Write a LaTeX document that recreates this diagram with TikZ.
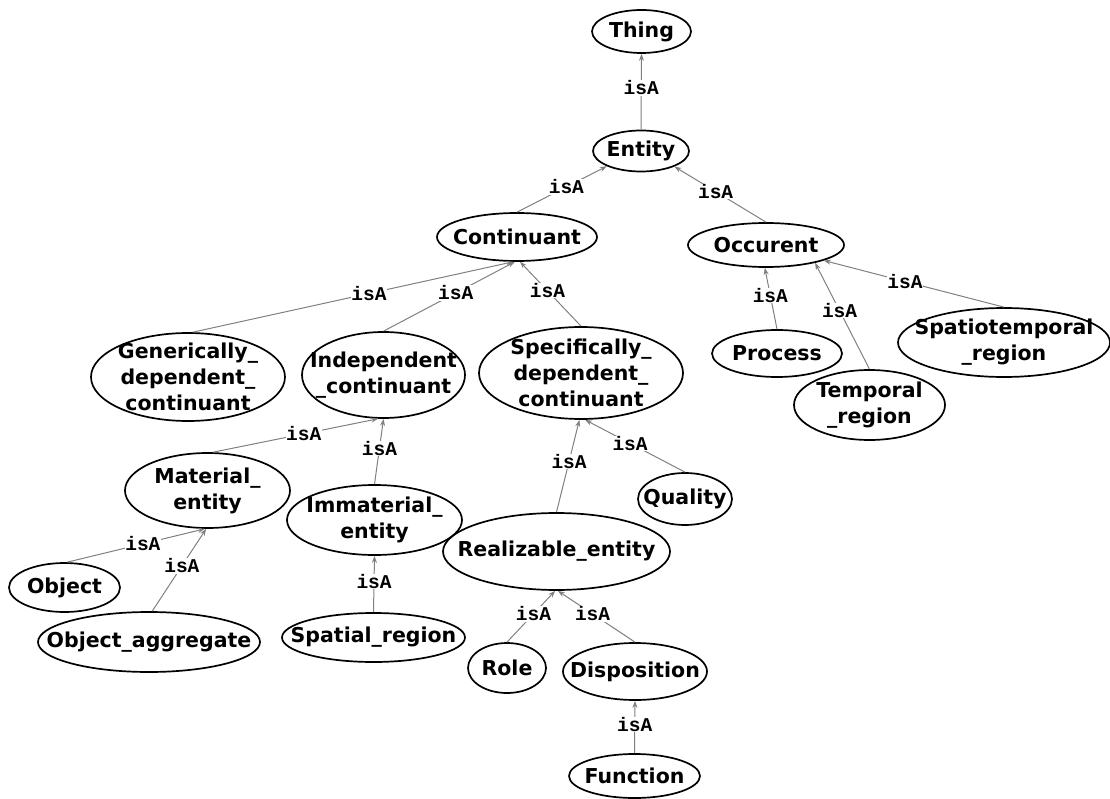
\documentclass[tikz,border=0pt]{standalone}
\usepackage{fontspec}
\setmainfont{DejaVu Sans}
\newfontfamily\labfont{Liberation Mono}
\usetikzlibrary{arrows.meta,shapes.geometric}
\definecolor{edgegray}{RGB}{128,128,128}
\tikzset{
  ell/.style={ellipse, draw=black, line width=1.7pt, inner sep=0pt},
  ntext/.style={font=\fontsize{20.5}{26}\selectfont\bfseries, align=center, inner sep=0pt},
  edge/.style={draw=edgegray, line width=1pt, -{Stealth[length=7pt,width=5pt]}},
  lbl/.style={font=\labfont\fontsize{19.5}{20}\selectfont\bfseries, fill=white, inner sep=0.5pt, pos=0.55, text=black},
}
\begin{document}
\begin{tikzpicture}[x=1pt,y=-1pt]
\useasboundingbox (0,0) rectangle (1110,799);
% nodes
\node[ell, minimum width=99pt, minimum height=43pt, label={[ntext]center:Thing}] (thing) at (641.5,31.5) {};
\node[ell, minimum width=96pt, minimum height=41pt, label={[ntext]center:Entity}] (ent) at (641,151) {};
\node[ell, minimum width=160pt, minimum height=48pt, label={[ntext]center:Continuant}] (cont) at (517,237) {};
\node[ell, minimum width=156pt, minimum height=44pt, label={[ntext]center:Occurent}] (occ) at (766,245) {};
\node[ell, minimum width=194pt, minimum height=88pt, label={[ntext]center:{Generically\_\\dependent\_\\continuant}}] (gen) at (188,377) {};
\node[ell, minimum width=163pt, minimum height=86pt, label={[ntext]center:{Independent\\\_continuant}}] (ind) at (383.5,375) {};
\node[ell, minimum width=204pt, minimum height=92pt, label={[ntext]center:{Specifically\_\\dependent\_\\continuant}}] (spec) at (581,373) {};
\node[ell, minimum width=130pt, minimum height=47pt, label={[ntext]center:Process}] (proc) at (777,353.5) {};
\node[ell, minimum width=151pt, minimum height=70pt, label={[ntext]center:{Temporal\\\_region}}] (temp) at (869.5,405) {};
\node[ell, minimum width=212pt, minimum height=69pt, label={[ntext]center:{Spatiotemporal\\\_region}}] (spt) at (1004,342.5) {};
\node[ell, minimum width=165pt, minimum height=75pt, label={[ntext]center:{Material\_\\entity}}] (mat) at (207.5,490.5) {};
\node[ell, minimum width=175pt, minimum height=70pt, label={[ntext]center:{Immaterial\_\\entity}}] (imm) at (374.5,520) {};
\node[ell, minimum width=94pt, minimum height=52pt, label={[ntext]center:Quality}] (qual) at (685,499) {};
\node[ell, minimum width=227pt, minimum height=77pt, label={[ntext]center:Realizable\_entity}] (real) at (556.5,551.5) {};
\node[ell, minimum width=111pt, minimum height=49pt, label={[ntext]center:Object}] (obj) at (64.5,587.5) {};
\node[ell, minimum width=222pt, minimum height=60pt, label={[ntext]center:Object\_aggregate}] (objagg) at (149,642) {};
\node[ell, minimum width=183pt, minimum height=49pt, label={[ntext]center:Spatial\_region}] (spat) at (373.5,637.5) {};
\node[ell, minimum width=78pt, minimum height=50pt, label={[ntext]center:Role}] (role) at (507,668) {};
\node[ell, minimum width=144pt, minimum height=57pt, label={[ntext]center:Disposition}] (disp) at (635,671.5) {};
\node[ell, minimum width=131pt, minimum height=44pt, label={[ntext]center:Function}] (func) at (634.5,776) {};
% edges
\draw[edge] (ent.north) -- node[lbl]{isA} (thing.south);
\draw[edge] (cont.north) -- node[lbl]{isA} (ent.204);
\draw[edge] (occ.north) -- node[lbl]{isA} (ent.335);
\draw[edge] (gen.84) -- node[lbl]{isA} (cont.261);
\draw[edge] (ind.north) -- node[lbl]{isA} (cont.265);
\draw[edge] (spec.north) -- node[lbl]{isA} (cont.277);
\draw[edge] (proc.north) -- node[lbl]{isA} (occ.267);
\draw[edge] (temp.north) -- node[lbl]{isA} (occ.340);
\draw[edge] (spt.north) -- node[lbl]{isA} (occ.345);
\draw[edge] (mat.82) -- node[lbl]{isA} (ind.263);
\draw[edge] (imm.north) -- node[lbl]{isA} (ind.south);
\draw[edge] (real.north) -- node[lbl]{isA} (spec.268);
\draw[edge] (qual.north) -- node[lbl]{isA} (spec.275);
\draw[edge] (obj.84) -- node[lbl]{isA} (mat.266);
\draw[edge] (objagg.84) -- node[lbl]{isA} (mat.268);
\draw[edge] (spat.north) -- node[lbl]{isA} (imm.south);
\draw[edge] (role.north) -- node[lbl]{isA} (real.268);
\draw[edge] (disp.north) -- node[lbl]{isA} (real.272);
\draw[edge] (func.north) -- node[lbl]{isA} (disp.south);
\end{tikzpicture}
\end{document}
